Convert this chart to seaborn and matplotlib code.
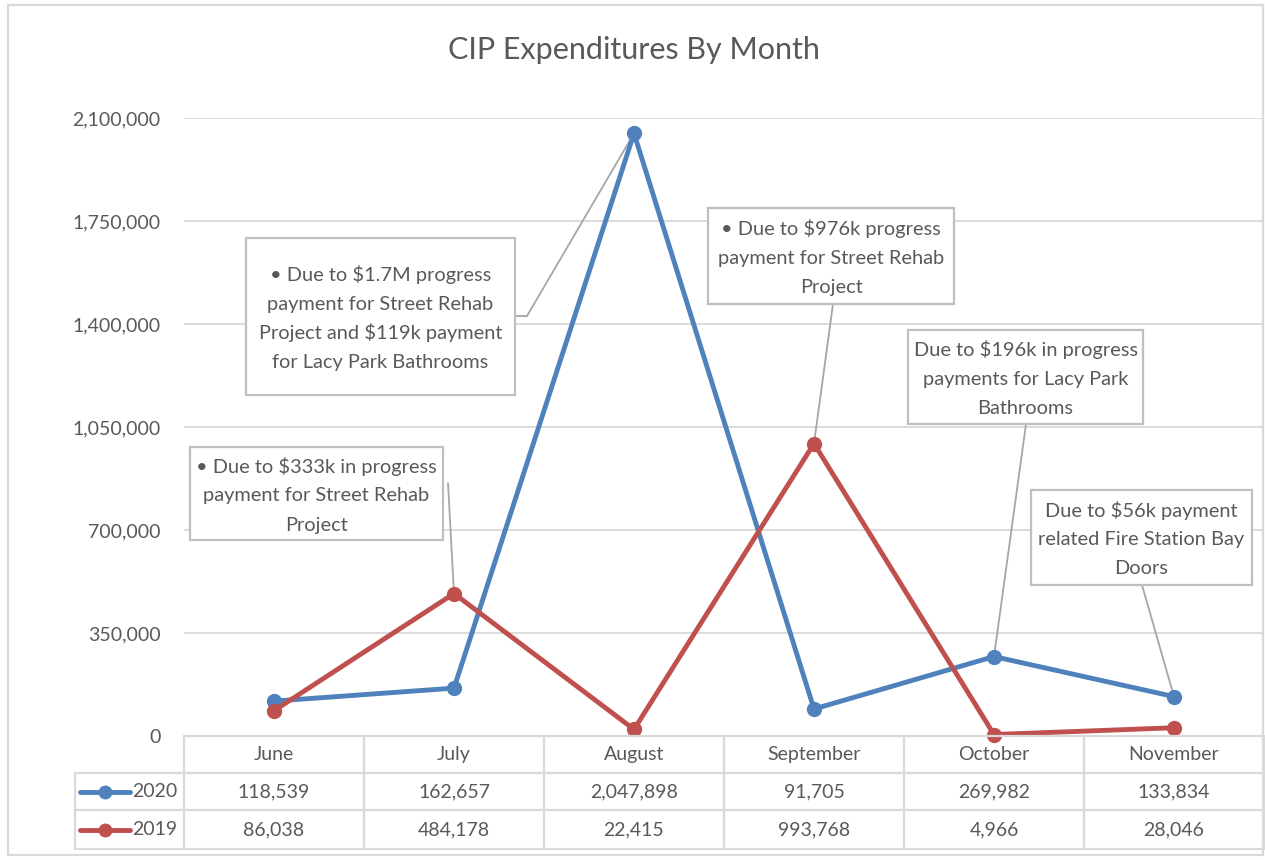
import pandas as pd
import seaborn as sns
from matplotlib import pyplot as plt
from matplotlib.lines import Line2D
from matplotlib.patches import Rectangle

months = ["June", "July", "August", "September", "October", "November"]
exp_2020 = [118539, 162657, 2047898, 91705, 269982, 133834]
exp_2019 = [86038, 484178, 22415, 993768, 4966, 28046]
years = ["2020", "2019"]
palette = {"2020": "#4F81BD", "2019": "#C0504D"}
y_ticks = [0, 350000, 700000, 1050000, 1400000, 1750000, 2100000]

# call-out notes
note_text = [
    ["\u2022 Due to $1.7M progress", "payment for Street Rehab",
     "Project and $119k payment", "for Lacy Park Bathrooms"],
    ["\u2022 Due to $976k progress", "payment for Street Rehab", "Project"],
    ["Due to $196k in progress", "payments for Lacy Park", "Bathrooms"],
    ["Due to $56k payment", "related Fire Station Bay", "Doors"],
    ["\u2022 Due to $333k in progress", "payment for Street Rehab", "Project"],
]
note_series = ["2020", "2019", "2020", "2020", "2019"]
note_month = [2, 3, 4, 5, 1]
# box (x0, x1, y0, y1) and connector start, in image pixels from top-left
note_box = [(246, 515, 238, 395), (708, 954, 208, 304), (908, 1143, 330, 424),
            (1031, 1252, 490, 585), (190, 443, 447, 540)]
note_start = [(527, 316), (833, 304), (1026, 424), (1142, 585), (448, 483)]
note_elbow = [True, False, False, False, False]

W, H = 1265, 860
GREY = "#595959"
LINE = "#D9D9D9"

df = pd.DataFrame({
    "pos": list(range(len(months))) * 2,
    "value": exp_2020 + exp_2019,
    "year": ["2020"] * len(months) + ["2019"] * len(months),
})

sns.set_style("white")
plt.rcParams["font.family"] = ["Lato", "DejaVu Sans"]

fig = plt.figure(figsize=(W / 100, H / 100), dpi=100)


def fx(x):
    return x / W


def fy(y):
    return 1 - y / H


ax = fig.add_axes([fx(184), fy(736), (1264 - 184) / W, (736 - 118) / H])

sns.lineplot(data=df, x="pos", y="value", hue="year", hue_order=years,
             palette=palette, marker="o", markersize=11, markeredgewidth=0,
             linewidth=3.5, legend=False, ax=ax, clip_on=False, zorder=3)

ax.set_xlim(-0.5, len(months) - 0.5)
ax.set_ylim(0, 2100000)
ax.set_yticks(y_ticks)
ax.set_yticklabels([f"{v:,}" for v in y_ticks])
ax.set_xticks([])
ax.set_xlabel("")
ax.set_ylabel("")
ax.yaxis.grid(True, color=LINE, lw=1.3)
ax.set_axisbelow(True)
for s in ax.spines.values():
    s.set_visible(False)
ax.tick_params(axis="y", length=0, pad=17, labelsize=14, labelcolor=GREY)

fig.text(fx(634), fy(50), "CIP Expenditures By Month", ha="center", va="center",
         fontsize=22, color=GREY)

# annotations: connector, box, text lines
for lines, yr, i, (x0, x1, y0, y1), (sx, sy), elbow in zip(
        note_text, note_series, note_month, note_box, note_start, note_elbow):
    val = exp_2020[i] if yr == "2020" else exp_2019[i]
    ax.annotate("", xy=(i, val), xycoords="data",
                xytext=(sx, H - sy), textcoords="figure pixels", zorder=2,
                arrowprops=dict(arrowstyle="-", color="#A6A6A6", lw=1.3,
                                shrinkA=0, shrinkB=0))
    if elbow:
        fig.add_artist(Line2D([fx(x1), fx(sx)], [fy(sy), fy(sy)], color="#A6A6A6", lw=1.3))
    fig.add_artist(Rectangle((fx(x0), fy(y1)), fx(x1 - x0), (y1 - y0) / H,
                             transform=fig.transFigure, fc="white", ec="#BFBFBF",
                             lw=1.6, zorder=5))
    cx, cy = (x0 + x1) / 2, (y0 + y1) / 2
    n = len(lines)
    for k, t in enumerate(lines):
        ly = cy + (k - (n - 1) / 2) * 29
        fig.text(fx(cx), fy(ly + 8), t, ha="center", va="baseline",
                 fontsize=14.4, color=GREY, zorder=6)

# data table under the chart
col_w = 180
col_edges = [184 + col_w * k for k in range(len(months) + 1)]
rows = [736, 773, 810, 849]


def hline(x0, x1, y):
    fig.add_artist(Line2D([fx(x0), fx(x1)], [fy(y), fy(y)], color=LINE, lw=1.6))


def vline(x, y0, y1):
    fig.add_artist(Line2D([fx(x), fx(x)], [fy(y0), fy(y1)], color=LINE, lw=1.6))


hline(184, 1264, rows[0])
for y in rows[1:]:
    hline(75, 1264, y)
for x in col_edges:
    vline(x, rows[0], rows[3])
vline(75, rows[1], rows[3])

for k, m in enumerate(months):
    cx = (col_edges[k] + col_edges[k + 1]) / 2
    ycen = (rows[0] + rows[1]) / 2
    fig.text(fx(cx), fy(ycen), m, ha="center", va="center", fontsize=14, color=GREY)

for r, (yr, vals) in enumerate(zip(years, [exp_2020, exp_2019])):
    ycen = (rows[r + 1] + rows[r + 2]) / 2
    fig.add_artist(Line2D([fx(80), fx(130)], [fy(ycen), fy(ycen)], color=palette[yr],
                          lw=3.5, solid_capstyle="round"))
    fig.add_artist(Line2D([fx(105)], [fy(ycen)], color=palette[yr], marker="o",
                          markersize=10, markeredgewidth=0))
    fig.text(fx(132), fy(ycen), yr, ha="left", va="center", fontsize=14, color=GREY)
    for k, v in enumerate(vals):
        cx = (col_edges[k] + col_edges[k + 1]) / 2
        fig.text(fx(cx), fy(ycen), f"{v:,}", ha="center", va="center",
                 fontsize=14, color=GREY)

# outer chart border
fig.add_artist(Rectangle((fx(8), fy(855)), fx(1263 - 8), (855 - 5) / H,
                         transform=fig.transFigure, fill=False, ec=LINE, lw=1.6))

plt.savefig("out.png", dpi=100)
plt.close()
